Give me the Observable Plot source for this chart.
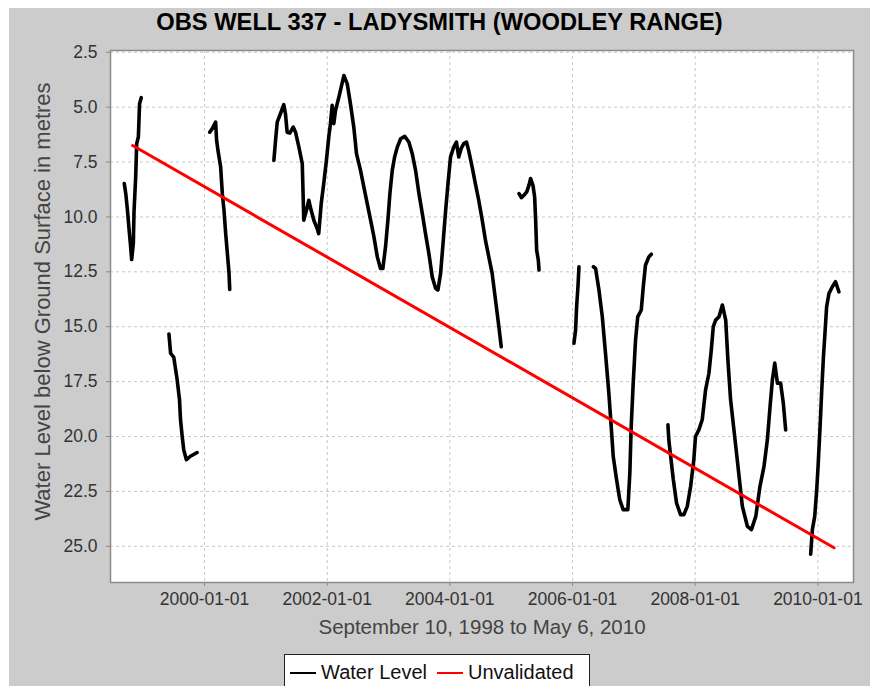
<!DOCTYPE html>
<html>
<head>
<meta charset="utf-8">
<script src="https://cdn.jsdelivr.net/npm/d3@7"></script>
<script src="https://cdn.jsdelivr.net/npm/@observablehq/plot@0.6"></script>
<style>
  html, body { margin: 0; padding: 0; background: #ffffff; }
  #frame { position: absolute; left: 9px; top: 8px; width: 861px; height: 678px; background: #cccccc; overflow: hidden;
           font-family: "Liberation Sans", Arial, Helvetica, sans-serif; }
  #title { height: 28px; line-height: 28px; text-align: center; font-weight: bold; font-size: 23.7px; color: #000; }
  #chart svg { display: block; }
  #legend { position: absolute; left: 275px; top: 646px; width: 306px; height: 40px; background: #fff; border: 1px solid #222;
            display: flex; align-items: flex-start; padding-top: 6px; box-sizing: border-box; font-size: 20px; color: #111; }
  #legend .item { display: flex; align-items: center; margin-left: 5px; margin-right: 5px; white-space: nowrap; }
  #legend .sw { display: inline-block; width: 26px; height: 2px; margin-right: 5px; }
</style>
</head>
<body>
<div id="frame">
  <div id="title"></div>
  <div id="chart"></div>
  <div id="legend"></div>
</div>
<script>
// ---- Text ----
const chartTitle = "OBS WELL 337 - LADYSMITH (WOODLEY RANGE)";
const xAxisLabel = "September 10, 1998 to May 6, 2010";
const yAxisLabel = "Water Level below Ground Surface in metres";
const legendLabels = ["Water Level", "Unvalidated"];
const legendColors = ["#000000", "#ff0000"];

// ---- Ticks ----
const xTickDates = ["2000-01-01", "2002-01-01", "2004-01-01", "2006-01-01", "2008-01-01", "2010-01-01"];
const yTickValues = [2.5, 5.0, 7.5, 10.0, 12.5, 15.0, 17.5, 20.0, 22.5, 25.0];

// ---- Water level record (metres below ground), gaps between segments ----
const segment1 = [
  ["1998-09-10", 8.48], ["1998-09-19", 8.94], ["1998-09-29", 9.7], ["1998-10-09", 10.6], ["1998-10-18", 11.36],
  ["1998-10-24", 11.94], ["1998-11-03", 11.2], ["1998-11-07", 9.77], ["1998-11-17", 8.18], ["1998-11-23", 6.66],
  ["1998-12-03", 6.36], ["1998-12-10", 4.85], ["1998-12-20", 4.57]
];
const segment2 = [
  ["1999-06-03", 15.33], ["1999-06-13", 16.21], ["1999-07-02", 16.4], ["1999-07-22", 17.42], ["1999-08-05", 18.33],
  ["1999-08-11", 19.24], ["1999-08-21", 20.0], ["1999-08-30", 20.6], ["1999-09-15", 21.06], ["1999-10-09", 20.9],
  ["1999-11-18", 20.73]
];
const segment3 = [
  ["2000-02-01", 6.14], ["2000-02-16", 5.98], ["2000-03-07", 5.68], ["2000-03-13", 6.51], ["2000-03-21", 6.97],
  ["2000-04-06", 7.73], ["2000-04-16", 8.94], ["2000-04-26", 9.7], ["2000-05-06", 10.76], ["2000-05-16", 11.66],
  ["2000-05-26", 12.57], ["2000-05-30", 13.3]
];
const segment4 = [
  ["2001-02-17", 7.42], ["2001-02-27", 6.51], ["2001-03-09", 5.68], ["2001-03-28", 5.3], ["2001-04-17", 4.89],
  ["2001-04-27", 5.3], ["2001-05-07", 6.14], ["2001-05-23", 6.18], ["2001-06-12", 5.91], ["2001-06-26", 6.14],
  ["2001-07-16", 6.82], ["2001-08-05", 7.57], ["2001-08-11", 9.24], ["2001-08-14", 10.15], ["2001-08-30", 9.7],
  ["2001-09-13", 9.24], ["2001-09-27", 9.7], ["2001-10-13", 10.15], ["2001-11-02", 10.53], ["2001-11-11", 10.76],
  ["2001-11-26", 9.39], ["2001-12-11", 8.48], ["2001-12-27", 7.42], ["2002-01-10", 6.36], ["2002-01-20", 5.75],
  ["2002-01-30", 4.92], ["2002-02-09", 5.75], ["2002-02-19", 5.15], ["2002-03-01", 4.85], ["2002-03-11", 4.55],
  ["2002-03-25", 4.09], ["2002-04-10", 3.56], ["2002-04-30", 3.94], ["2002-05-19", 4.85], ["2002-06-08", 5.91],
  ["2002-06-24", 7.12], ["2002-07-18", 7.88], ["2002-08-07", 8.64], ["2002-08-27", 9.39], ["2002-09-16", 10.15],
  ["2002-10-06", 10.91], ["2002-10-26", 11.82], ["2002-11-14", 12.35], ["2002-11-28", 12.35], ["2002-12-14", 11.36],
  ["2002-12-28", 10.15], ["2003-01-09", 8.94], ["2003-01-23", 7.88], ["2003-02-06", 7.27], ["2003-02-22", 6.82],
  ["2003-03-14", 6.44], ["2003-04-07", 6.33], ["2003-05-02", 6.59], ["2003-05-22", 7.12], ["2003-06-11", 7.88],
  ["2003-07-01", 8.94], ["2003-07-21", 9.85], ["2003-08-09", 10.76], ["2003-08-29", 11.66], ["2003-09-18", 12.73],
  ["2003-10-08", 13.25], ["2003-10-22", 13.33], ["2003-11-07", 12.57], ["2003-11-23", 11.06], ["2003-12-07", 9.7],
  ["2003-12-21", 8.48], ["2004-01-05", 7.27], ["2004-01-24", 6.82], ["2004-02-09", 6.59], ["2004-02-23", 7.27],
  ["2004-03-08", 6.89], ["2004-03-24", 6.66], ["2004-04-09", 6.59], ["2004-04-22", 6.97], ["2004-05-13", 7.73],
  ["2004-06-01", 8.48], ["2004-06-21", 9.24], ["2004-07-12", 10.15], ["2004-07-31", 11.06], ["2004-08-20", 11.82],
  ["2004-09-09", 12.57], ["2004-09-29", 13.79], ["2004-10-19", 15.0], ["2004-11-02", 15.91]
];
const segment5 = [
  ["2005-02-16", 8.94], ["2005-03-02", 9.12], ["2005-03-18", 9.01], ["2005-04-03", 8.86], ["2005-04-16", 8.56],
  ["2005-04-26", 8.25], ["2005-05-10", 8.56], ["2005-05-20", 9.09], ["2005-05-26", 10.15], ["2005-06-01", 11.51],
  ["2005-06-11", 11.97], ["2005-06-15", 12.42]
];
const segment6 = [
  ["2006-01-09", 15.75], ["2006-01-19", 15.15], ["2006-01-25", 14.09], ["2006-02-02", 13.18], ["2006-02-08", 12.27]
];
const segment7 = [
  ["2006-05-05", 12.27], ["2006-05-18", 12.35], ["2006-06-07", 13.33], ["2006-06-27", 14.55], ["2006-07-16", 16.21],
  ["2006-08-05", 18.03], ["2006-08-19", 19.55], ["2006-08-31", 20.9], ["2006-09-20", 21.97], ["2006-10-09", 22.88],
  ["2006-10-29", 23.33], ["2006-11-26", 23.33], ["2006-12-08", 21.66], ["2006-12-16", 19.55], ["2006-12-28", 17.57],
  ["2007-01-11", 15.6], ["2007-01-24", 14.55], ["2007-02-14", 14.24], ["2007-02-26", 13.18], ["2007-03-11", 12.2],
  ["2007-03-31", 11.82], ["2007-04-15", 11.7]
];
const segment8 = [
  ["2007-07-23", 19.47], ["2007-07-28", 20.15], ["2007-08-08", 20.9], ["2007-08-24", 21.97], ["2007-09-12", 23.03],
  ["2007-10-06", 23.56], ["2007-10-26", 23.56], ["2007-11-15", 23.18], ["2007-12-05", 22.27], ["2007-12-24", 21.06],
  ["2008-01-03", 20.0], ["2008-01-23", 19.7], ["2008-02-12", 19.24], ["2008-03-03", 17.88], ["2008-03-23", 17.12],
  ["2008-04-06", 16.06], ["2008-04-18", 15.0], ["2008-05-02", 14.7], ["2008-05-22", 14.55], ["2008-06-11", 14.01],
  ["2008-07-01", 14.7], ["2008-07-14", 16.51], ["2008-07-30", 18.33], ["2008-08-19", 19.7], ["2008-09-12", 21.36],
  ["2008-10-08", 23.18], ["2008-11-07", 24.09], ["2008-12-01", 24.24], ["2008-12-27", 23.64], ["2009-01-21", 22.27],
  ["2009-02-14", 21.36], ["2009-03-06", 20.15], ["2009-03-22", 18.64], ["2009-04-05", 17.42], ["2009-04-19", 16.66],
  ["2009-05-05", 17.57], ["2009-05-24", 17.57], ["2009-06-09", 18.48], ["2009-06-23", 19.7]
];
const segment9 = [
  ["2009-11-19", 25.36], ["2009-11-29", 24.24], ["2009-12-13", 23.64], ["2009-12-25", 22.42], ["2010-01-02", 21.36],
  ["2010-01-14", 19.55], ["2010-01-24", 17.88], ["2010-02-03", 16.36], ["2010-02-12", 15.3], ["2010-02-22", 14.09],
  ["2010-03-08", 13.48], ["2010-03-28", 13.18], ["2010-04-16", 12.95], ["2010-05-06", 13.41]
];

// ---- Unvalidated trend line ----
const trendDates = ["1998-10-30", "2010-04-07"];
const trendLevels = [6.75, 25.07];

// ---- Axis domains ----
const xDomain = ["1998-06-20", "2010-08-01"];
const yDomain = [2.42, 26.65];

// ---- Build ----
const segments = [segment1, segment2, segment3, segment4, segment5, segment6, segment7, segment8, segment9];
const waterData = segments.flatMap((seg, i) => seg.map(([d, v]) => ({date: new Date(d), level: v, seg: i})));
const trendData = trendDates.map((d, i) => ({date: new Date(d), level: trendLevels[i]}));
const xTicks = xTickDates.map(d => new Date(d));

document.getElementById("title").textContent = chartTitle;

const fontFamily = '"Liberation Sans", Arial, Helvetica, sans-serif';
const chart = Plot.plot({
  width: 861,
  height: 610,
  marginTop: 14,
  marginLeft: 101,
  marginRight: 17,
  marginBottom: 64,
  style: {background: "transparent", fontFamily, fontSize: "17.5px", overflow: "visible"},
  x: {type: "utc", domain: xDomain.map(d => new Date(d))},
  y: {domain: yDomain, reverse: true},
  marks: [
    Plot.frame({fill: "#ffffff", stroke: "none"}),
    Plot.gridX(xTicks, {stroke: "#c8c8c8", strokeOpacity: 1, strokeDasharray: "3,3"}),
    Plot.gridY(yTickValues, {stroke: "#c8c8c8", strokeOpacity: 1, strokeDasharray: "3,3"}),
    Plot.line(waterData, {x: "date", y: "level", z: "seg", stroke: legendColors[0], strokeWidth: 3.6, strokeLinejoin: "round", strokeLinecap: "round"}),
    Plot.line(trendData, {x: "date", y: "level", stroke: legendColors[1], strokeWidth: 3}),
    Plot.frame({stroke: "#8a8a8a", strokeWidth: 1.5}),
    Plot.axisX(xTicks, {tickFormat: d3.utcFormat("%Y-%m-%d"), tickSize: 4, tickPadding: 6, stroke: "#8a8a8a", fill: "#333333", label: null}),
    Plot.axisY(yTickValues, {tickFormat: d => d.toFixed(1), tickSize: 4, tickPadding: 9, stroke: "#8a8a8a", fill: "#333333", label: null}),
    Plot.text([xAxisLabel], {frameAnchor: "bottom", lineAnchor: "middle", textAnchor: "middle", dy: 45, fontSize: 20.5, fill: "#444444"}),
    Plot.text([yAxisLabel], {frameAnchor: "left", lineAnchor: "middle", textAnchor: "middle", rotate: -90, dx: -68, dy: -15, fontSize: 22, fill: "#444444"})
  ]
});
document.getElementById("chart").appendChild(chart);

// ---- Legend ----
const legend = document.getElementById("legend");
legendLabels.forEach((label, i) => {
  const item = document.createElement("span");
  item.className = "item";
  const sw = document.createElement("span");
  sw.className = "sw";
  sw.style.background = legendColors[i];
  const txt = document.createElement("span");
  txt.textContent = label;
  item.appendChild(sw);
  item.appendChild(txt);
  legend.appendChild(item);
});
</script>
</body>
</html>
